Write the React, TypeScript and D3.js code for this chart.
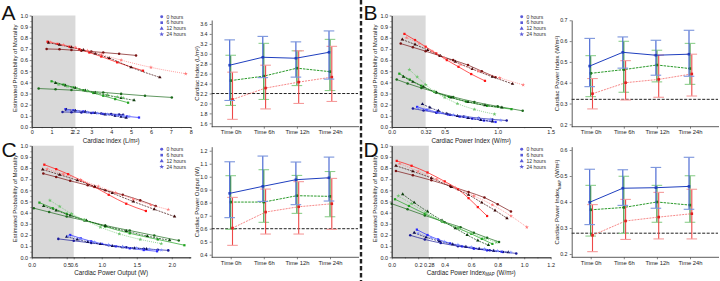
import React, { useEffect, useRef } from 'react';
import * as d3 from 'd3';

type Pt = [number, number];

const FONT = 'Liberation Sans, Arial, sans-serif';

const hourLabels = ['0 hours', '6 hours', '12 hours', '24 hours'];
const timeLabels = ['Time 0h', 'Time 6h', 'Time 12h', 'Time 24h'];

// cut-off per index: edge of the grey zone and the dashed reference line
const cutoffs = [2.2, 0.32, 0.6, 0.28];
const cutoffLabels = ['2.2', '0.32', '0.6', '0.28'];

// predicted mortality curves, one list per time point (0h, 6h, 12h, 24h)
const ciRed: Pt[][] = [
  [[0.75, 0.70], [1.4, 0.697], [2.0, 0.69], [2.5, 0.684], [3.0, 0.677], [3.6, 0.668], [4.4, 0.656], [5.25, 0.642]],
  [[0.8, 0.765], [1.3, 0.745], [1.9, 0.72], [2.4, 0.697], [2.9, 0.668], [3.5, 0.632], [4.3, 0.58], [5.6, 0.505]],
  [[0.85, 0.755], [1.4, 0.737], [2.0, 0.715], [2.6, 0.69], [3.2, 0.658], [3.9, 0.618], [5.0, 0.535], [6.45, 0.445]],
  [[0.95, 0.76], [1.6, 0.737], [2.2, 0.713], [2.8, 0.685], [3.5, 0.65], [4.5, 0.6], [6.0, 0.535], [7.75, 0.478]],
];
const ciGreen: Pt[][] = [
  [[0.35, 0.345], [1.2, 0.338], [2.0, 0.331], [2.8, 0.322], [3.6, 0.31], [4.5, 0.297], [5.7, 0.28], [7.05, 0.265]],
  [[1.0, 0.41], [1.6, 0.38], [2.1, 0.355], [2.6, 0.33], [3.1, 0.305], [3.6, 0.28], [4.2, 0.25], [4.85, 0.218]],
  [[1.2, 0.395], [1.7, 0.372], [2.2, 0.35], [2.7, 0.328], [3.2, 0.308], [3.8, 0.285], [4.5, 0.26], [5.15, 0.24]],
  [[1.35, 0.38], [1.8, 0.363], [2.3, 0.345], [2.8, 0.325], [3.3, 0.305], [3.8, 0.288], [4.3, 0.27], [4.6, 0.262]],
];
const ciBlue: Pt[][] = [
  [[1.55, 0.135], [2.0, 0.133], [2.5, 0.13], [3.0, 0.126], [3.5, 0.122], [4.0, 0.117], [4.4, 0.112], [4.6, 0.11]],
  [[1.7, 0.16], [2.1, 0.15], [2.6, 0.14], [3.1, 0.128], [3.6, 0.117], [4.2, 0.105], [4.8, 0.095], [5.4, 0.085]],
  [[1.75, 0.155], [2.2, 0.146], [2.7, 0.136], [3.2, 0.125], [3.7, 0.113], [4.2, 0.1], [4.5, 0.092], [4.75, 0.083]],
  [[1.8, 0.148], [2.3, 0.14], [2.8, 0.132], [3.3, 0.123], [3.8, 0.114], [4.3, 0.104], [4.6, 0.098], [4.9, 0.094]],
];

const cpiRed: Pt[][] = [
  [[0.085, 0.748], [0.2, 0.715], [0.32, 0.68], [0.45, 0.64], [0.58, 0.6], [0.72, 0.555], [0.85, 0.5], [0.98, 0.447]],
  [[0.12, 0.835], [0.22, 0.78], [0.32, 0.72], [0.42, 0.66], [0.52, 0.6], [0.63, 0.54], [0.75, 0.475], [0.88, 0.414]],
  [[0.1, 0.784], [0.22, 0.74], [0.34, 0.69], [0.46, 0.638], [0.6, 0.585], [0.76, 0.52], [0.95, 0.45], [1.14, 0.387]],
  [[0.14, 0.8], [0.26, 0.75], [0.38, 0.68], [0.5, 0.62], [0.65, 0.56], [0.82, 0.5], [1.02, 0.44], [1.24, 0.378]],
];
const cpiGreen: Pt[][] = [
  [[0.047, 0.426], [0.15, 0.39], [0.28, 0.35], [0.42, 0.31], [0.58, 0.27], [0.78, 0.225], [1.0, 0.185], [1.236, 0.145]],
  [[0.072, 0.478], [0.17, 0.425], [0.28, 0.37], [0.4, 0.315], [0.54, 0.27], [0.7, 0.228], [0.9, 0.19], [1.13, 0.16]],
  [[0.11, 0.45], [0.2, 0.405], [0.3, 0.36], [0.42, 0.31], [0.56, 0.265], [0.72, 0.225], [0.88, 0.195], [1.04, 0.175]],
  [[0.167, 0.514], [0.24, 0.45], [0.32, 0.38], [0.4, 0.32], [0.5, 0.265], [0.62, 0.21], [0.78, 0.158], [0.97, 0.115]],
];
const cpiBlue: Pt[][] = [
  [[0.2, 0.165], [0.3, 0.148], [0.42, 0.128], [0.55, 0.11], [0.68, 0.095], [0.82, 0.08], [0.95, 0.068], [1.085, 0.058]],
  [[0.24, 0.18], [0.33, 0.155], [0.43, 0.132], [0.53, 0.112], [0.64, 0.093], [0.76, 0.075], [0.87, 0.058], [0.98, 0.045]],
  [[0.29, 0.205], [0.36, 0.175], [0.44, 0.145], [0.52, 0.12], [0.62, 0.098], [0.72, 0.08], [0.84, 0.063], [0.95, 0.05]],
  [[0.25, 0.17], [0.35, 0.15], [0.46, 0.128], [0.58, 0.108], [0.7, 0.092], [0.82, 0.078], [0.93, 0.068], [1.03, 0.06]],
];

const cpoRed: Pt[][] = [
  [[0.166, 0.75], [0.35, 0.72], [0.55, 0.685], [0.8, 0.645], [1.05, 0.6], [1.3, 0.56], [1.55, 0.51], [1.77, 0.46]],
  [[0.18, 0.83], [0.35, 0.79], [0.52, 0.745], [0.7, 0.69], [0.9, 0.63], [1.1, 0.56], [1.35, 0.48], [1.63, 0.415]],
  [[0.157, 0.786], [0.4, 0.74], [0.65, 0.69], [0.9, 0.635], [1.15, 0.575], [1.45, 0.5], [1.75, 0.43], [2.04, 0.365]],
  [[0.22, 0.79], [0.45, 0.745], [0.7, 0.695], [0.95, 0.635], [1.2, 0.58], [1.45, 0.52], [1.7, 0.47], [1.95, 0.428]],
];
const cpoGreen: Pt[][] = [
  [[0.03, 0.44], [0.25, 0.405], [0.5, 0.365], [0.75, 0.33], [1.05, 0.285], [1.4, 0.24], [1.75, 0.195], [2.1, 0.15]],
  [[0.11, 0.49], [0.3, 0.44], [0.5, 0.39], [0.75, 0.335], [1.05, 0.275], [1.4, 0.215], [1.8, 0.16], [2.18, 0.108]],
  [[0.17, 0.46], [0.35, 0.42], [0.55, 0.375], [0.78, 0.33], [1.05, 0.28], [1.35, 0.235], [1.65, 0.19], [1.97, 0.152]],
  [[0.26, 0.51], [0.4, 0.455], [0.57, 0.39], [0.75, 0.335], [0.98, 0.27], [1.25, 0.21], [1.55, 0.16], [1.85, 0.123]],
];
const cpoBlue: Pt[][] = [
  [[0.38, 0.165], [0.6, 0.148], [0.85, 0.128], [1.1, 0.108], [1.35, 0.09], [1.6, 0.077], [1.8, 0.068], [1.95, 0.062]],
  [[0.55, 0.2], [0.7, 0.17], [0.85, 0.143], [1.0, 0.12], [1.2, 0.098], [1.4, 0.08], [1.6, 0.065], [1.79, 0.054]],
  [[0.5, 0.185], [0.65, 0.16], [0.8, 0.138], [0.98, 0.118], [1.15, 0.102], [1.3, 0.09], [1.47, 0.082], [1.64, 0.075]],
  [[0.52, 0.19], [0.7, 0.163], [0.9, 0.136], [1.1, 0.113], [1.3, 0.095], [1.5, 0.082], [1.68, 0.072], [1.85, 0.065]],
];

const mapRed: Pt[][] = [
  [[0.032, 0.774], [0.16, 0.735], [0.3, 0.69], [0.44, 0.64], [0.58, 0.585], [0.7, 0.535], [0.8, 0.475], [0.9, 0.41]],
  [[0.038, 0.864], [0.15, 0.82], [0.27, 0.76], [0.4, 0.68], [0.5, 0.61], [0.58, 0.53], [0.65, 0.45], [0.72, 0.37]],
  [[0.032, 0.82], [0.16, 0.77], [0.3, 0.71], [0.45, 0.63], [0.58, 0.56], [0.68, 0.49], [0.78, 0.42], [0.87, 0.35]],
  [[0.06, 0.84], [0.2, 0.77], [0.34, 0.7], [0.48, 0.625], [0.62, 0.55], [0.76, 0.47], [0.9, 0.37], [1.02, 0.27]],
];
const mapGreen: Pt[][] = [
  [[0.0, 0.48], [0.12, 0.43], [0.25, 0.375], [0.4, 0.315], [0.52, 0.27], [0.62, 0.22], [0.72, 0.175], [0.81, 0.138]],
  [[0.025, 0.52], [0.13, 0.46], [0.25, 0.39], [0.38, 0.32], [0.5, 0.26], [0.6, 0.21], [0.68, 0.165], [0.76, 0.12]],
  [[0.083, 0.565], [0.17, 0.49], [0.27, 0.41], [0.38, 0.33], [0.48, 0.26], [0.57, 0.2], [0.65, 0.15], [0.73, 0.11]],
  [[0.05, 0.55], [0.15, 0.48], [0.26, 0.4], [0.38, 0.325], [0.5, 0.265], [0.6, 0.215], [0.7, 0.17], [0.79, 0.135]],
];
const mapBlue: Pt[][] = [
  [[0.14, 0.197], [0.25, 0.16], [0.37, 0.128], [0.5, 0.1], [0.62, 0.08], [0.74, 0.063], [0.84, 0.048], [0.94, 0.035]],
  [[0.19, 0.248], [0.27, 0.2], [0.35, 0.16], [0.44, 0.125], [0.53, 0.098], [0.62, 0.078], [0.72, 0.062], [0.83, 0.05]],
  [[0.17, 0.22], [0.26, 0.18], [0.36, 0.145], [0.46, 0.117], [0.56, 0.095], [0.66, 0.076], [0.77, 0.058], [0.88, 0.045]],
  [[0.2, 0.215], [0.3, 0.175], [0.4, 0.14], [0.5, 0.113], [0.6, 0.092], [0.7, 0.075], [0.8, 0.058], [0.9, 0.045]],
];

// group means with error bars: [mean, lower, upper] at each time point
const ciBlueBars = [[2.77, 2.06, 3.28], [2.93, 2.52, 3.35], [2.91, 2.53, 3.24], [3.03, 2.49, 3.46]];
const ciGreenBars = [[2.46, 1.96, 2.97], [2.55, 2.08, 3.21], [2.71, 2.36, 3.06], [2.64, 2.26, 3.29]];
const ciRedBars = [[2.08, 1.68, 2.63], [2.31, 1.89, 2.77], [2.43, 2.0, 3.06], [2.53, 2.04, 3.15]];

const cpiBlueBars = [[0.48, 0.381, 0.613], [0.546, 0.47, 0.62], [0.532, 0.436, 0.604], [0.537, 0.431, 0.652]];
const cpiGreenBars = [[0.445, 0.333, 0.53], [0.463, 0.354, 0.599], [0.485, 0.404, 0.556], [0.468, 0.392, 0.589]];
const cpiRedBars = [[0.347, 0.274, 0.42], [0.4, 0.317, 0.506], [0.416, 0.33, 0.533], [0.442, 0.336, 0.537]];

const cpoBlueBars = [[0.872, 0.685, 1.115], [0.926, 0.81, 1.159], [0.977, 0.785, 1.113], [0.992, 0.813, 1.151]];
const cpoGreenBars = [[0.805, 0.595, 1.008], [0.805, 0.649, 1.054], [0.854, 0.718, 1.01], [0.849, 0.692, 1.04]];
const cpoRedBars = [[0.605, 0.472, 0.841], [0.728, 0.559, 0.905], [0.769, 0.559, 0.962], [0.792, 0.595, 0.987]];

const mapBlueBars = [[0.399, 0.313, 0.526], [0.453, 0.387, 0.524], [0.455, 0.376, 0.533], [0.46, 0.372, 0.572]];
const mapGreenBars = [[0.37, 0.269, 0.464], [0.379, 0.279, 0.499], [0.4, 0.322, 0.464], [0.388, 0.322, 0.501]];
const mapRedBars = [[0.272, 0.209, 0.39], [0.327, 0.256, 0.41], [0.342, 0.258, 0.437], [0.355, 0.258, 0.449]];

// colours per group (red, green, blue) and per time point
const curveColors = [
  ['#7a1212', '#ff1414', '#3c0808', '#ff7878'],
  ['#1d6b1d', '#1fa31f', '#0f400f', '#6cc46c'],
  ['#1a1a9a', '#2a2aff', '#0b0b55', '#7d8cff'],
];
const curveDashes = [null, null, '2,1', '1,1'];
const symbolTypes = [d3.symbolCircle, d3.symbolSquare, d3.symbolTriangle, d3.symbolStar];

const barStyles = [
  { bar: '#ee4848', cap: '#f59c9c', line: '#f46a6a', dash: '2,1', mark: '#e01e1e', dx: 1.8, width: 0.8 },
  { bar: '#2f8f2f', cap: '#8dd08d', line: '#2a9a2a', dash: '2.5,1', mark: '#1f7a1f', dx: 0, width: 1 },
  { bar: '#3e5fd0', cap: '#7b95dc', line: '#1f3fbf', dash: null, mark: '#1f3fbf', dx: -1, width: 1 },
];

type Title = { main: string; sub?: string; tail?: string };

const panels = [
  {
    letter: 'A', dx: 0, row: 0, xDomain: [0, 8], xTicks: d3.range(0, 9, 1), xMinor: d3.range(0.5, 8, 1),
    xFmt: d3.format('d'), cut: 0, curves: [ciRed, ciGreen, ciBlue], bars: [ciRedBars, ciGreenBars, ciBlueBars],
    errDomain: [1.532, 3.68], errTicks: d3.range(1.6, 3.65, 0.2),
    xTitle: { main: 'Cardiac index (L/m²)' } as Title, yTitle: { main: 'Cardiac Index (L/m²)' } as Title,
  },
  {
    letter: 'B', dx: 360, row: 0, xDomain: [0, 1.5], xTicks: [0, 0.5, 1, 1.5], xMinor: [0.25, 0.75, 1.25],
    xFmt: d3.format('.1f'), cut: 1, curves: [cpiRed, cpiGreen, cpiBlue], bars: [cpiRedBars, cpiGreenBars, cpiBlueBars],
    errDomain: [0.1885, 0.7014], errTicks: d3.range(0.2, 0.75, 0.1),
    xTitle: { main: 'Cardiac Power Index (W/m²)' } as Title, yTitle: { main: 'Cardiac Power Index (W/m²)' } as Title,
  },
  {
    letter: 'C', dx: 0, row: 1, xDomain: [0, 2.27], xTicks: [0, 0.5, 1, 1.5, 2], xMinor: [0.25, 0.75, 1.25, 1.75, 2.25],
    xFmt: d3.format('.1f'), cut: 2, curves: [cpoRed, cpoGreen, cpoBlue], bars: [cpoRedBars, cpoGreenBars, cpoBlueBars],
    errDomain: [0.38, 1.231], errTicks: d3.range(0.4, 1.25, 0.1),
    xTitle: { main: 'Cardiac Power Output (W)' } as Title, yTitle: { main: 'Cardiac Power Output (W)' } as Title,
  },
  {
    letter: 'D', dx: 360, row: 1, xDomain: [0, 1.2], xTicks: d3.range(0, 1.25, 0.2), xMinor: d3.range(0.1, 1.2, 0.2),
    xFmt: d3.format('.1f'), cut: 3, curves: [mapRed, mapGreen, mapBlue], bars: [mapRedBars, mapGreenBars, mapBlueBars],
    errDomain: [0.1873, 0.6127], errTicks: d3.range(0.2, 0.65, 0.1),
    xTitle: { main: 'Cardiac Power Index', sub: 'MAP', tail: ' (W/m²)' } as Title,
    yTitle: { main: 'Cardiac Power Index', sub: 'MAP', tail: ' (W/m²)' } as Title,
  },
];

function styleAxis(sel: any, fontSize: number) {
  sel.attr('font-family', FONT).attr('font-size', fontSize);
  sel.selectAll('path.domain').attr('stroke', '#333').attr('stroke-width', 0.8);
  sel.selectAll('.tick line').attr('stroke', '#333').attr('stroke-width', 0.6);
  sel.selectAll('.tick text').attr('fill', '#222');
}

function writeTitle(text: any, t: Title) {
  text.append('tspan').text(t.main);
  if (t.sub) {
    text.append('tspan').attr('dy', 1.6).attr('font-size', '0.7em').text(t.sub);
    text.append('tspan').attr('dy', -1.6).text(t.tail);
  }
}

function drawPanel(svg: any, p: any) {
  const g = svg.append('g').attr('transform', `translate(${p.dx},0)`);
  const top = p.row === 0;
  const cut = cutoffs[p.cut];

  // ---- scatter of predicted mortality ----
  const sx = d3.scaleLinear().domain(p.xDomain).range([31.7, 190.7]);
  const sy = d3.scaleLinear().domain([0, 1]).range(top ? [127, 15.5] : [257.3, 145.7]);

  g.append('rect')
    .attr('x', sx(0)).attr('y', sy(1))
    .attr('width', sx(cut) - sx(0)).attr('height', sy(0) - sy(1))
    .attr('fill', '#d9d9d9');

  const line = d3.line<Pt>().x((d) => sx(d[0])).y((d) => sy(d[1])).curve(d3.curveMonotoneX);
  [2, 1, 0].forEach((gi) => {
    p.curves[gi].forEach((pts: Pt[], ti: number) => {
      const color = curveColors[gi][ti];
      g.append('path')
        .attr('d', line(pts))
        .attr('fill', 'none')
        .attr('stroke', color)
        .attr('stroke-width', 0.7)
        .attr('stroke-dasharray', curveDashes[ti]);
      g.selectAll(null)
        .data(pts)
        .enter()
        .append('path')
        .attr('transform', (d: Pt) => `translate(${sx(d[0])},${sy(d[1])})`)
        .attr('d', d3.symbol().type(symbolTypes[ti]).size(5))
        .attr('fill', color);
    });
  });

  const xAxis = g.append('g').attr('transform', `translate(0,${sy(0)})`)
    .call(d3.axisBottom(sx).tickValues(p.xTicks).tickFormat(p.xFmt).tickSize(2).tickSizeOuter(0).tickPadding(top ? 0.8 : 3.5));
  styleAxis(xAxis, 5.5);
  const xMinor = g.append('g').attr('transform', `translate(0,${sy(0)})`)
    .call(d3.axisBottom(sx).tickValues(p.xMinor).tickFormat(() => '').tickSize(1.2).tickSizeOuter(0));
  styleAxis(xMinor, 5.5);
  const xCut = g.append('g').attr('transform', `translate(0,${sy(0)})`)
    .call(d3.axisBottom(sx).tickValues([cut]).tickFormat(() => cutoffLabels[p.cut]).tickSize(2).tickSizeOuter(0).tickPadding(top ? 0.8 : 3.5));
  styleAxis(xCut, 5.5);
  xCut.select('path.domain').remove();

  const yAxis = g.append('g').attr('transform', `translate(${sx(0)},0)`)
    .call(d3.axisLeft(sy).tickValues(d3.range(0, 1.05, 0.1)).tickFormat(d3.format('.1f')).tickSize(2).tickSizeOuter(0).tickPadding(1.6));
  styleAxis(yAxis, 5.5);
  const yMinor = g.append('g').attr('transform', `translate(${sx(0)},0)`)
    .call(d3.axisLeft(sy).tickValues(d3.range(0.05, 1, 0.1)).tickFormat(() => '').tickSize(1.2).tickSizeOuter(0));
  styleAxis(yMinor, 5.5);

  const xt = g.append('text')
    .attr('x', (sx.range()[0] + sx.range()[1]) / 2)
    .attr('y', top ? 142.6 : 274.5)
    .attr('text-anchor', 'middle')
    .attr('font-family', FONT).attr('font-size', 6.3).attr('fill', '#222');
  writeTitle(xt, p.xTitle);

  g.append('text')
    .attr('transform', `translate(17,${(sy(0) + sy(1)) / 2 - 3}) rotate(-90)`)
    .attr('text-anchor', 'middle')
    .attr('font-family', FONT).attr('font-size', 6).attr('fill', '#222')
    .text('Estimated Probability of Mortality');

  // legend
  const ly0 = top ? 16.8 : 149.3;
  hourLabels.forEach((lab, i) => {
    const ly = ly0 + i * 5.85;
    g.append('path')
      .attr('transform', `translate(161.7,${ly})`)
      .attr('d', d3.symbol().type(symbolTypes[i]).size(7))
      .attr('fill', '#5a5ad8');
    g.append('text')
      .attr('x', 166.5).attr('y', ly + 1.8)
      .attr('font-family', FONT).attr('font-size', 5).attr('fill', '#333')
      .text(lab);
  });

  // ---- means with error bars over time ----
  const ex = d3.scalePoint<string>().domain(timeLabels).range([230.7, 330]);
  const ey = d3.scaleLinear().domain(p.errDomain).range(top ? [126.7, 20] : [257.3, 146.7]);
  const x0 = 211.7;
  const x1 = 359;

  g.append('line')
    .attr('x1', x0).attr('x2', x1 - 1)
    .attr('y1', ey(cut)).attr('y2', ey(cut))
    .attr('stroke', '#222').attr('stroke-width', 1).attr('stroke-dasharray', '3,1.5');

  [1, 0, 2].forEach((gi) => {
    const st = barStyles[gi];
    const rows = p.bars[gi];
    const bx = (i: number) => (ex(timeLabels[i]) as number) + st.dx;
    rows.forEach((r: number[], i: number) => {
      g.append('line')
        .attr('x1', bx(i)).attr('x2', bx(i)).attr('y1', ey(r[1])).attr('y2', ey(r[2]))
        .attr('stroke', st.bar).attr('stroke-width', 1.1);
      [r[1], r[2]].forEach((v) => {
        g.append('line')
          .attr('x1', bx(i) - 5.3).attr('x2', bx(i) + 5.3).attr('y1', ey(v)).attr('y2', ey(v))
          .attr('stroke', st.cap).attr('stroke-width', 1.1);
      });
    });
    const mline = d3.line<number[]>().x((_, i) => bx(i)).y((r) => ey(r[0]));
    g.append('path')
      .attr('d', mline(rows))
      .attr('fill', 'none')
      .attr('stroke', st.line)
      .attr('stroke-width', st.width)
      .attr('stroke-dasharray', st.dash);
    rows.forEach((r: number[], i: number) => {
      g.append('rect')
        .attr('x', bx(i) - 1.3).attr('y', ey(r[0]) - 1.3)
        .attr('width', 2.6).attr('height', 2.6)
        .attr('fill', st.mark);
    });
  });

  const eyAxis = g.append('g').attr('transform', `translate(${x0},0)`)
    .call(d3.axisLeft(ey).tickValues(p.errTicks).tickFormat(d3.format('.1f')).tickSize(2).tickSizeOuter(0).tickPadding(2.2));
  styleAxis(eyAxis, 5.3);

  const exAxis = g.append('g').attr('transform', `translate(0,${ey.range()[0]})`)
    .call(d3.axisBottom(ex).tickSize(2).tickSizeOuter(0).tickPadding(top ? 0.8 : 1.8));
  styleAxis(exAxis, 5.8);
  exAxis.select('path.domain').remove();
  g.append('line')
    .attr('x1', x0).attr('x2', x1).attr('y1', ey.range()[0]).attr('y2', ey.range()[0])
    .attr('stroke', '#333').attr('stroke-width', 0.8);

  const yt = g.append('text')
    .attr('transform', `translate(199,${(ey.range()[0] + ey.range()[1]) / 2}) rotate(-90)`)
    .attr('text-anchor', 'middle')
    .attr('font-family', FONT).attr('font-size', 6).attr('fill', '#222');
  writeTitle(yt, p.yTitle);

  // panel letter
  g.append('text')
    .attr('x', p.dx === 0 ? 1.5 : 3.5).attr('y', top ? 20 : 157)
    .attr('font-family', FONT).attr('font-size', 21).attr('fill', '#111')
    .text(p.letter);
}

export default function App() {
  const ref = useRef<SVGSVGElement>(null);

  useEffect(() => {
    const svg = d3.select(ref.current);
    svg.selectAll('*').remove();
    svg.append('rect').attr('width', 720).attr('height', 281).attr('fill', '#fff');

    panels.forEach((p) => drawPanel(svg, p));

    // dashed divider between left and right columns
    svg.append('line')
      .attr('x1', 361).attr('x2', 361).attr('y1', 0).attr('y2', 281)
      .attr('stroke', '#222').attr('stroke-width', 2.4).attr('stroke-dasharray', '4.5,2.5');
  }, []);

  return (
    <svg
      ref={ref}
      width={720}
      height={281}
      style={{ position: 'absolute', left: 0, top: 0, display: 'block' }}
    />
  );
}
